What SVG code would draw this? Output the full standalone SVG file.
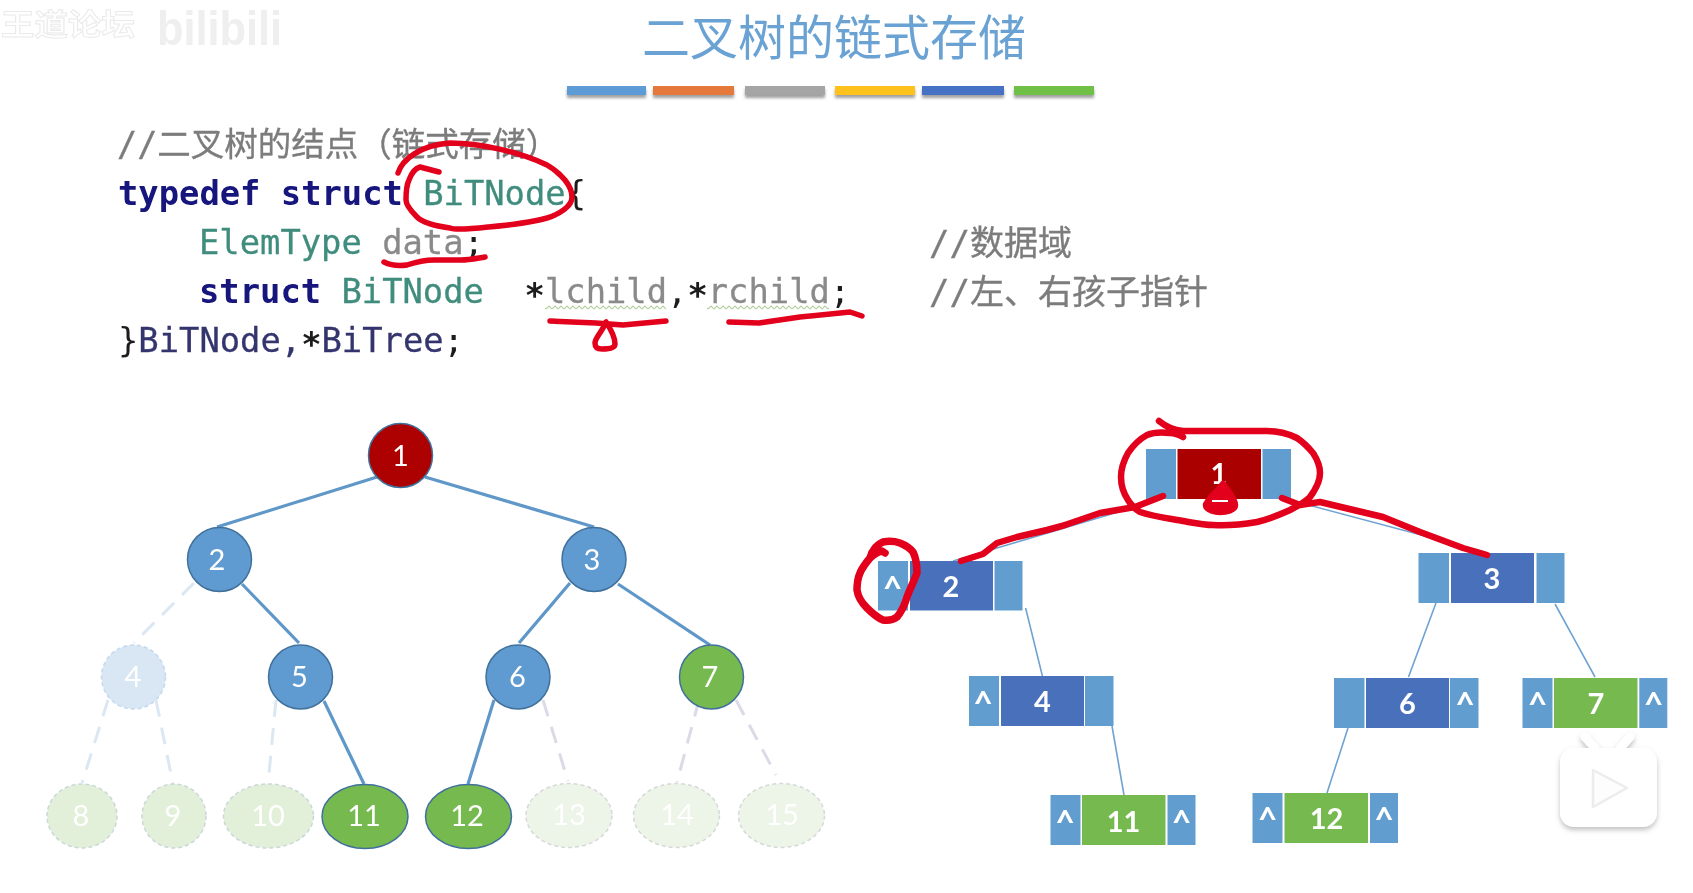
<svg xmlns="http://www.w3.org/2000/svg" width="1693" height="893" viewBox="0 0 1693 893">
<style>
.title{font:48px "Noto Sans CJK SC","Liberation Sans",sans-serif;fill:#6aa3d3}
.code{font-family:"DejaVu Sans Mono","Noto Sans CJK SC",monospace;font-size:33.8px;fill:#1b1b1b}
.cm{fill:#7c7c7c;font-size:34px;stroke:#7c7c7c;stroke-width:.35}.kw{fill:#12127c;font-weight:bold}.ty{fill:#3f8c7d;stroke:#3f8c7d;stroke-width:.3}.va{fill:#8a8a8a;stroke:#8a8a8a;stroke-width:.3}.nv{fill:#34346e;stroke:#34346e;stroke-width:.3}
.st{font-weight:bold}
.n{font:29px Lato,"Liberation Sans",sans-serif;fill:#fff;text-anchor:middle}
.b{font-weight:bold}
.cr{font:bold 34px Lato,"Liberation Sans",sans-serif;fill:#fff;text-anchor:middle}
.e{stroke:#5f97c9;stroke-width:3.2;fill:none}
.d{stroke-width:3;fill:none;stroke-dasharray:17 11}
.thin{stroke:#6fa3d2;stroke-width:1.6;fill:none}
.blue{fill:#5f9bd0;stroke:#41719c;stroke-width:1.5}
.green{fill:#76b94f;stroke:#41719c;stroke-width:1.5}
.fade{stroke-width:1.5;stroke-dasharray:4 3}
.cell{fill:#629dd0}.mid{fill:#4a70bb}.gr{fill:#76ba50}.rd{fill:#ab0000}
.red{stroke:#e2001a;stroke-width:5.5;fill:none;stroke-linecap:round;stroke-linejoin:round}
.r2{stroke-width:6.5}
</style>
<defs>
<filter id="soft" x="-2%" y="-2%" width="104%" height="104%"><feGaussianBlur stdDeviation="0.55"/></filter>
<filter id="sh" x="-10%" y="-50%" width="120%" height="220%"><feDropShadow dx="0" dy="3" stdDeviation="1.6" flood-color="#777" flood-opacity=".7"/></filter>
<filter id="logo" x="-20%" y="-20%" width="140%" height="140%"><feDropShadow dx="0" dy="3" stdDeviation="2.5" flood-color="#999" flood-opacity=".6"/></filter>
<pattern id="wavy" width="6" height="5" patternUnits="userSpaceOnUse"><path d="M0 4L3 1L6 4" fill="none" stroke="#b5cf9f" stroke-width="1.1"/></pattern>
</defs>
<rect width="1693" height="893" fill="#fff"/>
<g filter="url(#soft)">
<g id="watermark">
<text x="1" y="35" font-family="Noto Sans CJK SC,sans-serif" font-size="30" font-weight="bold" fill="#fff" stroke="#eaeaea" stroke-width="1" textLength="134" lengthAdjust="spacingAndGlyphs">王道论坛</text>
<text x="157" y="45" font-family="Liberation Sans,sans-serif" font-size="48" font-weight="bold" fill="#efefef" textLength="125" lengthAdjust="spacingAndGlyphs">bilibili</text>
</g>
<g id="title">
<text class="title" x="642" y="55">二叉树的链式存储</text>
<g filter="url(#sh)">
<rect x="567" y="86" width="79" height="9" fill="#5b9bd5"/>
<rect x="653" y="86" width="81" height="9" fill="#e5783a"/>
<rect x="745" y="86" width="80" height="9" fill="#a5a5a5"/>
<rect x="835" y="86" width="80" height="9" fill="#ffc21a"/>
<rect x="922" y="86" width="82" height="9" fill="#4472c4"/>
<rect x="1014" y="86" width="80" height="9" fill="#70bf46"/>
</g>
</g>
<g id="code">
<text class="code cm" x="117" y="156" style="font-size:33.5px">//二叉树的结点（链式存储）</text>
<text class="code" x="118" y="205" xml:space="preserve"><tspan class="kw">typedef struct</tspan> <tspan class="ty">BiTNode</tspan>{</text>
<text class="code" x="199" y="254" xml:space="preserve"><tspan class="ty">ElemType</tspan> <tspan class="va">data</tspan>;</text>
<text class="code" x="199" y="303" xml:space="preserve"><tspan class="kw">struct</tspan> <tspan class="ty">BiTNode</tspan>  <tspan class="st" dy="4">*</tspan><tspan class="va" dy="-4">lchild</tspan>,<tspan class="st" dy="4">*</tspan><tspan class="va" dy="-4">rchild</tspan>;</text>
<text class="code" x="118" y="352"><tspan>}</tspan><tspan class="nv">BiTNode,</tspan><tspan class="st" dy="4">*</tspan><tspan class="nv" dy="-4">BiTree</tspan>;</text>
<text class="code cm" x="929" y="255">//数据域</text>
<text class="code cm" x="929" y="304">//左、右孩子指针</text>
<rect x="545" y="305" width="121" height="5" fill="url(#wavy)"/>
<rect x="707" y="305" width="122" height="5" fill="url(#wavy)"/>
</g>
<g id="connectors">
<path class="e" d="M377 477L217 527M425 477L594 527M242 584L299 643M570 583L519 643M618 584L710 645M324 701L364 784M494 700L468 784"/>
<path class="d" stroke="#dbe7f3" d="M194 583L134 643M108 700L82 783M156 700L173 784M276 700L268 784"/>
<path class="d" stroke="#dadbe6" d="M543 700L568 781M699 700L677 782M736 700L776 775"/>
<path class="thin" d="M1135 507L953 561M1301 503L1485 552M1025.6 608L1042.4 676M1436 603L1408.5 677M1555 604L1595 677M1112 726L1124 795M1348 728L1327 793"/>
</g>
<g id="tree">
<g id="t1"><circle cx="400.5" cy="455.5" r="32" fill="#ad0000" stroke="#41719c" stroke-width="1.5"/><text class="n" x="400.5" y="466">1</text></g>
<g id="t2"><circle class="blue" cx="219.5" cy="559.5" r="32"/><text class="n" x="217" y="570">2</text></g>
<g id="t3"><circle class="blue" cx="594" cy="559.5" r="32"/><text class="n" x="592" y="570">3</text></g>
<g id="t4"><circle class="fade" cx="133.5" cy="677" r="32" fill="#d9e6f3" stroke="#c5d9ec"/><text class="n" x="133" y="687">4</text></g>
<g id="t5"><circle class="blue" cx="300.5" cy="677" r="32"/><text class="n" x="299.5" y="687">5</text></g>
<g id="t6"><circle class="blue" cx="518" cy="677" r="32"/><text class="n" x="517.5" y="687">6</text></g>
<g id="t7"><circle class="green" cx="711.5" cy="677" r="32"/><text class="n" x="710" y="687">7</text></g>
<g id="t8"><ellipse class="fade" cx="82" cy="816" rx="35" ry="32" fill="#e2efd9" stroke="#c9d8d8"/><text class="n" x="81" y="826">8</text></g>
<g id="t9"><ellipse class="fade" cx="174" cy="816" rx="32" ry="32" fill="#e2efd9" stroke="#c9d8d8"/><text class="n" x="173" y="826">9</text></g>
<g id="t10"><ellipse class="fade" cx="268.5" cy="816" rx="45" ry="32" fill="#e2efd9" stroke="#c9d8d8"/><text class="n" x="268" y="826">10</text></g>
<g id="t11"><ellipse class="green" cx="365" cy="816.5" rx="43" ry="32"/><text class="n" x="364" y="826">11</text></g>
<g id="t12"><ellipse class="green" cx="468.5" cy="816.5" rx="43" ry="32"/><text class="n" x="467" y="826">12</text></g>
<g id="t13"><ellipse class="fade" cx="569" cy="815.5" rx="43" ry="32" fill="#edf4e8" stroke="#d5d9d8"/><text class="n" x="569" y="825">13</text></g>
<g id="t14"><ellipse class="fade" cx="676.5" cy="815.5" rx="43" ry="32" fill="#edf4e8" stroke="#d5d9d8"/><text class="n" x="677" y="825">14</text></g>
<g id="t15"><ellipse class="fade" cx="781.5" cy="815.5" rx="43" ry="32" fill="#edf4e8" stroke="#d5d9d8"/><text class="n" x="782" y="825">15</text></g>
</g>
<g id="list">
<g id="l1"><rect class="cell" x="1146" y="449" width="30" height="50"/><rect class="rd" x="1177.5" y="449" width="83.5" height="50"/><rect class="cell" x="1262.5" y="449" width="28.5" height="50"/><text class="n b" x="1219" y="484">1</text></g>
<g id="l2"><rect class="cell" x="878" y="561" width="30" height="49.5"/><rect class="mid" x="910" y="561" width="83" height="49.5"/><rect class="cell" x="994.5" y="561" width="28" height="49.5"/><text class="cr" x="892.5" y="601">^</text><text class="n b" x="951" y="597">2</text></g>
<g id="l3"><rect class="cell" x="1418.5" y="553" width="30.5" height="50"/><rect class="mid" x="1451" y="553" width="83" height="50"/><rect class="cell" x="1536.5" y="553" width="28" height="50"/><text class="n b" x="1492" y="589">3</text></g>
<g id="l4"><rect class="cell" x="969" y="676" width="30" height="50"/><rect class="mid" x="1001" y="676" width="83" height="50"/><rect class="cell" x="1085" y="676" width="28.5" height="50"/><text class="cr" x="983" y="716">^</text><text class="n b" x="1042.5" y="712">4</text></g>
<g id="l6"><rect class="cell" x="1334" y="678" width="30.5" height="50"/><rect class="mid" x="1366" y="678" width="83" height="50"/><rect class="cell" x="1450" y="678" width="28.5" height="50"/><text class="cr" x="1465" y="717">^</text><text class="n b" x="1407.5" y="714">6</text></g>
<g id="l7"><rect class="cell" x="1522.5" y="678" width="30" height="50"/><rect class="gr" x="1554" y="678" width="83.5" height="50"/><rect class="cell" x="1639.3" y="678" width="28" height="50"/><text class="cr" x="1537.5" y="717">^</text><text class="cr" x="1653.5" y="717">^</text><text class="n b" x="1596" y="714">7</text></g>
<g id="l11"><rect class="cell" x="1050.5" y="795" width="30" height="50"/><rect class="gr" x="1082" y="795" width="83.5" height="50"/><rect class="cell" x="1167.5" y="795" width="28" height="50"/><text class="cr" x="1065" y="835">^</text><text class="cr" x="1181.5" y="835">^</text><text class="n b" x="1123.5" y="832">11</text></g>
<g id="l12"><rect class="cell" x="1252.5" y="793" width="30" height="50"/><rect class="gr" x="1284.5" y="793" width="83.5" height="50"/><rect class="cell" x="1370" y="793" width="28" height="50"/><text class="cr" x="1267.5" y="832">^</text><text class="cr" x="1384" y="832">^</text><text class="n b" x="1326.5" y="829">12</text></g>
</g>
<g id="ink">
<path class="red" d="M398 173C402 160 420 145 450 143C480 143 520 152 547 165C562 174 572 186 572 197C572 206 560 214 547 218C525 224 500 226 488 227C470 229 455 230 450 228C435 226 422 222 417 217C410 210 406 205 406 200C406 192 407 184 409 180C412 172 416 168 420 167L439 172"/>
<path class="red" d="M384 262C392 266 400 266 407 265C416 262 425 260 434 260L461 260C470 260 478 258 485 257"/>
<path class="red" d="M550 321L596 323L623 325L666 321"/>
<path class="red" d="M606 322C602 332 595 338 595 343C595 348 598 349 602 349C610 349 615 348 615 344C615 336 610 328 606 322Z"/>
<path class="red" d="M729 322L759 323L800 317L850 312L862 316"/>
<path class="red r2" d="M1183 437C1178 434 1175 433 1170 433C1162 432 1154 432 1147 435C1138 440 1132 447 1128 453C1123 462 1121 470 1121 477C1121 487 1124 494 1128 500C1131 505 1135 509 1140 512C1152 516 1165 518 1177 520C1190 522 1202 525 1213 525C1230 526 1245 524 1257 522C1270 519 1281 514 1290 510C1298 506 1305 502 1310 497C1316 489 1320 481 1320 473C1320 465 1317 459 1313 453C1308 447 1303 442 1297 438C1287 433 1277 431 1267 431L1183 431C1173 430 1165 426 1159 421"/>
<path class="red r2" d="M1163 496L1135 507L1100 513L1065 525L1047 530L1017 537L997 543L983 554L961 561"/>
<path class="red r2" d="M1282 498L1300 505L1320 502L1383 517L1420 532L1463 548L1487 555"/>
<path class="red r2" d="M1223 484C1219 490 1206 501 1206 505C1206 510 1216 512 1220 512C1226 512 1235 510 1235 505C1235 499 1227 490 1223 484Z" style="fill:#e2001a"/>
<path d="M1212 501L1228 501" stroke="#fff" stroke-width="2" fill="none"/>
<path class="red" style="stroke-width:7.5" d="M885 553L882 551C876 552 873 555 870 558C865 564 862 568 860 573C857 580 857 585 857 590C858 597 862 603 867 608C872 613 878 618 883 620C889 621 893 620 897 617C902 611 905 604 907 597C910 589 914 581 917 573C917 565 916 558 913 552C909 547 905 545 900 543C894 541 888 541 883 542C878 544 873 547 870 558"/>
</g>
<g id="logo-mark">
<g filter="url(#logo)"><path d="M1585 737L1595 748M1630 737L1620 748" stroke="#fff" stroke-width="9" stroke-linecap="round" fill="none"/><rect x="1560" y="748" width="97" height="79" rx="14" fill="#fff"/></g>
<path d="M1593 770L1627 788L1593 807Z" fill="#fdfdfd" stroke="#ececec" stroke-width="2.5" stroke-linejoin="round"/>
</g>
</g>
</svg>
